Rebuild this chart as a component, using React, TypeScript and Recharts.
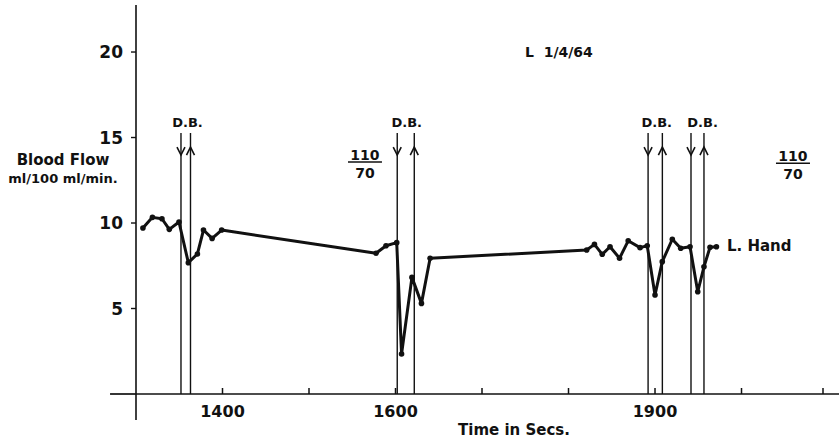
import React from 'react';
import { ComposedChart, Line, XAxis, YAxis, ReferenceLine, ReferenceDot } from 'recharts';

// ---- data ----
const times = [1308, 1319, 1330, 1338.5, 1349.7, 1360.5, 1371, 1378, 1388, 1399, 1577.5, 1589, 1601.4, 1607, 1619, 1630, 1640, 1821, 1830, 1839, 1848, 1859, 1869, 1882.7, 1891, 1900, 1908.4, 1920, 1929.7, 1940.5, 1949.4, 1956.6, 1963.6, 1971];
const flows = [9.71, 10.33, 10.25, 9.63, 10.06, 7.68, 8.19, 9.59, 9.1, 9.59, 8.23, 8.67, 8.85, 2.34, 6.82, 5.3, 7.94, 8.42, 8.75, 8.17, 8.61, 7.94, 8.96, 8.56, 8.67, 5.79, 7.74, 9.05, 8.52, 8.61, 5.98, 7.44, 8.58, 8.61];

const xTicks = [1400, 1500, 1600, 1700, 1800, 1900, 2000, 2100];
const xTickLabels: Record<number, string> = { 1400: '1400', 1600: '1600', 1900: '1900' };
const yTicks = [5, 10, 15, 20];

const xDomain: [number, number] = [1300, 2112.7];
const yDomain: [number, number] = [0, 22.75];

// deep-breath markers (times in secs)
const dbDown = [1352, 1602, 1892, 1941.6];
const dbUp = [1363, 1621.7, 1908.5, 1956.6];
const dbTop = 15.26;
const dbLabels = [
  { t: 1359.5, v: 15.9 },
  { t: 1613, v: 15.9 },
  { t: 1902, v: 15.9 },
  { t: 1955, v: 15.9 },
];

const pressureLabels = [
  { t: 1564.7, v: 13.57, top: '110', bottom: '70' },
  { t: 2059.5, v: 13.49, top: '110', bottom: '70' },
];

const titleLabel = { t: 1749.7, v: 20.0, text: 'L\u00a0\u00a01/4/64' };
const seriesLabel = { t: 1983.2, v: 8.65, text: 'L. Hand' };

const axisExtX = [{ x: 1270, y: 0 }, { x: 1300, y: 0 }];
const axisExtY = [{ x: 1300, y: 0 }, { x: 1300, y: -1.52 }];

const rows = times.map((t, i) => ({ t, v: flows[i] }));

const FONT = '"DejaVu Sans", "Noto Sans", sans-serif';
const INK = '#111';

const arrowShape = (dir: 'down' | 'up') => (props: any) => {
  const { x1, y1, y2 } = props;
  const top = Math.min(y1, y2);
  const bottom = Math.max(y1, y2);
  const x = x1;
  let head;
  if (dir === 'down') {
    const tip = top + 22;
    head = `M${x - 4},${tip - 8} L${x},${tip} L${x + 4},${tip - 8}`;
  } else {
    const tip = top + 14;
    head = `M${x - 4},${tip + 8} L${x},${tip} L${x + 4},${tip + 8}`;
  }
  return (
    <g>
      <line x1={x} y1={top} x2={x} y2={bottom} stroke={INK} strokeWidth={1.4} />
      <path d={head} fill="none" stroke={INK} strokeWidth={1.6} />
    </g>
  );
};

const textShape = (text: string, fontSize: number, anchor: 'start' | 'middle') => (props: any) => (
  <text
    x={props.cx}
    y={props.cy}
    dy="0.36em"
    textAnchor={anchor}
    fontFamily={FONT}
    fontWeight="bold"
    fontSize={fontSize}
    fill={INK}
  >
    {text}
  </text>
);

const fractionShape = (top: string, bottom: string) => (props: any) => {
  const { cx, cy } = props;
  return (
    <g>
      <text x={cx} y={cy - 2} textAnchor="middle" fontFamily={FONT} fontWeight="bold" fontSize={14} fill={INK}>
        {top}
      </text>
      <line x1={cx - 17} y1={cy} x2={cx + 17} y2={cy} stroke={INK} strokeWidth={1.5} />
      <text x={cx} y={cy + 16} textAnchor="middle" fontFamily={FONT} fontWeight="bold" fontSize={14} fill={INK}>
        {bottom}
      </text>
    </g>
  );
};

const XTick = (props: any) => {
  const { x, y, payload } = props;
  const label = xTickLabels[payload.value];
  return (
    <g>
      <line x1={x} y1={y} x2={x} y2={y - 6} stroke={INK} strokeWidth={1.5} />
      {label ? (
        <text x={x} y={y + 23} textAnchor="middle" fontFamily={FONT} fontWeight="bold" fontSize={16} fill={INK}>
          {label}
        </text>
      ) : null}
    </g>
  );
};

const YLabel = (props: any) => {
  const vb = props.viewBox || { x: 0, y: 0 };
  const cx = vb.x + 63;
  return (
    <g>
      <text x={cx} y={vb.y + 160} textAnchor="middle" fontFamily={FONT} fontWeight="bold" fontSize={15} fill={INK}>
        Blood Flow
      </text>
      <text x={cx} y={vb.y + 178} textAnchor="middle" fontFamily={FONT} fontWeight="bold" fontSize={13} fill={INK}>
        ml/100 ml/min.
      </text>
    </g>
  );
};

const XLabel = (props: any) => {
  const vb = props.viewBox || { x: 0, y: 0 };
  return (
    <text x={vb.x + 378} y={vb.y + 41} textAnchor="middle" fontFamily={FONT} fontWeight="bold" fontSize={15} fill={INK}>
      Time in Secs.
    </text>
  );
};

export default function App() {
  return (
    <div style={{ position: 'absolute', left: 0, top: 0, background: '#fff' }}>
      <ComposedChart
        width={839}
        height={441}
        data={rows}
        margin={{ top: 5, right: 0, bottom: 0, left: 0 }}
      >
        <XAxis
          type="number"
          dataKey="t"
          domain={xDomain}
          ticks={xTicks}
          height={47}
          tickSize={0}
          tickMargin={0}
          tickLine={false}
          axisLine={{ stroke: INK, strokeWidth: 1.7 }}
          tick={<XTick />}
          label={<XLabel />}
          allowDataOverflow
        />
        <YAxis
          type="number"
          domain={yDomain}
          ticks={yTicks}
          width={136}
          tickSize={5}
          tickMargin={8}
          tickLine={{ stroke: INK, strokeWidth: 1.4 }}
          axisLine={{ stroke: INK, strokeWidth: 1.6 }}
          tick={{ fill: INK, fontSize: 17, fontWeight: 'bold', fontFamily: FONT }}
          label={<YLabel />}
          allowDataOverflow
        />
        <ReferenceLine segment={axisExtX} ifOverflow="visible" stroke={INK} strokeWidth={1.7} />
        <ReferenceLine segment={axisExtY} ifOverflow="visible" stroke={INK} strokeWidth={1.6} />
        {dbDown.map((t) => (
          <ReferenceLine
            key={`d${t}`}
            segment={[{ x: t, y: 0 }, { x: t, y: dbTop }]}
            ifOverflow="visible"
            shape={arrowShape('down')}
          />
        ))}
        {dbUp.map((t) => (
          <ReferenceLine
            key={`u${t}`}
            segment={[{ x: t, y: 0 }, { x: t, y: dbTop }]}
            ifOverflow="visible"
            shape={arrowShape('up')}
          />
        ))}
        <Line
          type="linear"
          dataKey="v"
          stroke={INK}
          strokeWidth={3}
          strokeLinejoin="round"
          dot={{ r: 2.8, fill: INK, stroke: INK, strokeWidth: 0 }}
          activeDot={false}
          isAnimationActive={false}
        />
        {dbLabels.map((d) => (
          <ReferenceDot key={`l${d.t}`} x={d.t} y={d.v} r={0} ifOverflow="visible" shape={textShape('D.B.', 13, 'middle')} />
        ))}
        {pressureLabels.map((p) => (
          <ReferenceDot key={`p${p.t}`} x={p.t} y={p.v} r={0} ifOverflow="visible" shape={fractionShape(p.top, p.bottom)} />
        ))}
        <ReferenceDot x={titleLabel.t} y={titleLabel.v} r={0} ifOverflow="visible" shape={textShape(titleLabel.text, 14, 'start')} />
        <ReferenceDot x={seriesLabel.t} y={seriesLabel.v} r={0} ifOverflow="visible" shape={textShape(seriesLabel.text, 15, 'start')} />
      </ComposedChart>
    </div>
  );
}
